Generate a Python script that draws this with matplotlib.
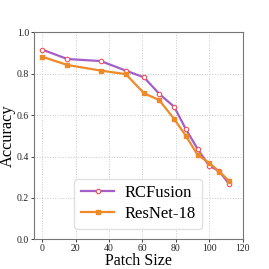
import matplotlib
matplotlib.use('Agg')
import matplotlib.pyplot as plt

# 데이터
patch_size = [0, 15, 35, 50, 61, 70, 79, 86, 93, 100, 106, 112]
rcfusion = [0.916, 0.871, 0.861, 0.815, 0.782, 0.703, 0.640, 0.532, 0.437, 0.355, 0.329, 0.266]
resnet18 = [0.882, 0.842, 0.815, 0.798, 0.705, 0.673, 0.581, 0.500, 0.408, 0.369, 0.327, 0.281]
x_ticks = [0, 20, 40, 60, 80, 100, 120]
y_ticks = [0.0, 0.2, 0.4, 0.6, 0.8, 1.0]

plt.rcParams['font.family'] = ['Liberation Serif', 'DejaVu Serif']

fig = plt.figure(figsize=(2.69, 2.69), dpi=100)
ax = fig.add_axes([34 / 269, 29.7 / 269, 208.6 / 269, 207 / 269])

ax.plot(patch_size, rcfusion, color='#a35fc7', linewidth=1.6, marker='o', markersize=3.2,
        markerfacecolor='white', markeredgecolor='#f0505a', markeredgewidth=0.8, label='RCFusion')
ax.plot(patch_size, resnet18, color='#ee8a2a', linewidth=1.6, marker='s', markersize=2.4,
        markerfacecolor='#ee8a2a', markeredgecolor='#ee8a2a', label='ResNet-18')

ax.set_xlim(-5, 120)
ax.set_ylim(0, 1.0)
ax.set_xticks(x_ticks)
ax.set_yticks(y_ticks)
ax.set_yticklabels([f'{v:.1f}' for v in y_ticks])
ax.tick_params(labelsize=7, length=2, width=0.6, pad=1.5, colors='#222222')
ax.grid(True, linestyle=':', color='#c8c8c8', linewidth=0.7)

for s in ax.spines.values():
    s.set_color('#777777')
    s.set_linewidth(0.8)

ax.set_xlabel('Patch Size', fontsize=11.5, labelpad=0)
ax.set_ylabel('Accuracy', fontsize=11.8, labelpad=0.5)

leg = ax.legend(loc='lower center', bbox_to_anchor=(0.5, 0.01), fontsize=12, handlelength=2.0,
                handletextpad=0.6, borderpad=0.4, labelspacing=0.3, framealpha=0.9)
leg.get_frame().set_edgecolor('#dddddd')

fig.savefig('out.png', dpi=100)
